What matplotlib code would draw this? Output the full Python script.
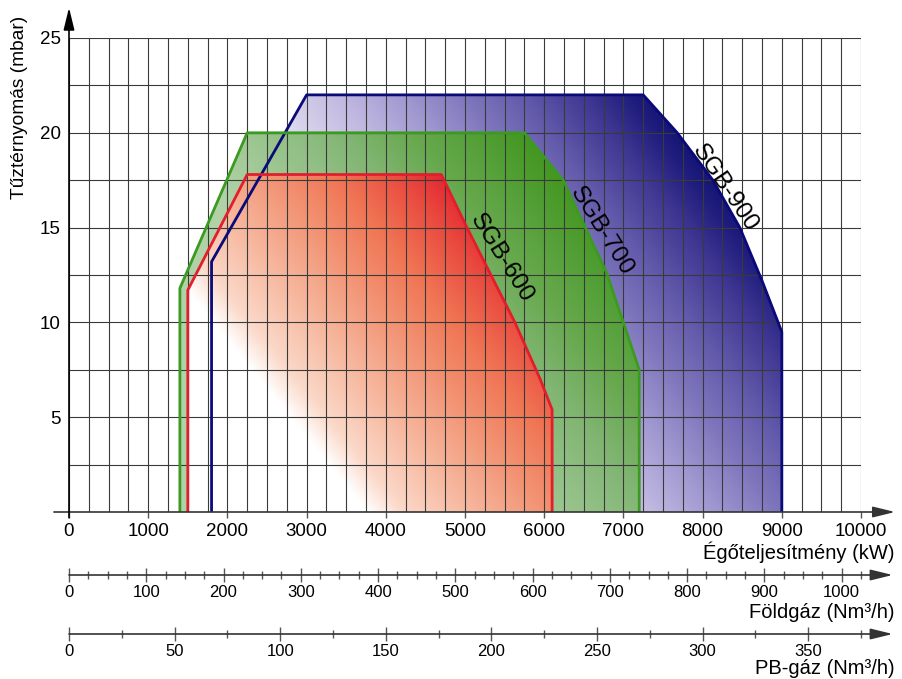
import numpy as np
import matplotlib.pyplot as plt
from matplotlib.colors import LinearSegmentedColormap
from matplotlib.patches import Polygon

plt.rcParams['font.family'] = ['Liberation Sans', 'DejaVu Sans']

# working ranges: burner output (kW) vs chamber pressure (mbar)
sgb600_kw = [1500, 1500, 2250, 4700, 5025, 5630, 5950, 6100, 6100]
sgb600_mbar = [0, 11.7, 17.8, 17.8, 15.0, 10.0, 7.0, 5.4, 0]
sgb700_kw = [1400, 1400, 2250, 5750, 6240, 6790, 7000, 7200, 7200]
sgb700_mbar = [0, 11.8, 20.0, 20.0, 17.5, 12.6, 10.0, 7.5, 0]
sgb900_kw = [1800, 1800, 3000, 7250, 7680, 8130, 8470, 8750, 9000, 9000]
sgb900_mbar = [0, 13.2, 22.0, 22.0, 20.0, 17.5, 15.0, 12.2, 9.5, 0]

kw_ticks = [0, 1000, 2000, 3000, 4000, 5000, 6000, 7000, 8000, 9000, 10000]
mbar_ticks = [5, 10, 15, 20, 25]
foldgaz_ticks = [0, 100, 200, 300, 400, 500, 600, 700, 800, 900, 1000]
pbgaz_ticks = [0, 50, 100, 150, 200, 250, 300, 350]

# conversion kW per Nm3/h
kw_per_foldgaz = 9.77
kw_per_pbgaz = 27.1

W, H = 903, 679
fig = plt.figure(figsize=(W / 100, H / 100), dpi=100)
ax = fig.add_axes([69 / W, 1 - 512 / H, 792 / W, 474 / H])
for s in ax.spines.values():
    s.set_visible(False)

xx, yy = np.meshgrid(np.linspace(0, 10000, 500), np.linspace(0, 25, 300))


def gradient_fill(px, py, t, stops, z):
    cmap = LinearSegmentedColormap.from_list('g', stops)
    poly = Polygon(np.column_stack([px, py]), closed=True, facecolor='none', edgecolor='none')
    ax.add_patch(poly)
    im = ax.imshow(np.clip(t, 0, 1), extent=(0, 10000, 0, 25), origin='lower', aspect='auto',
                   cmap=cmap, vmin=0, vmax=1, zorder=z, interpolation='bilinear')
    im.set_clip_path(poly)


# blue (SGB-900)
t_blue = 0.00019 * xx + 0.0341 * yy - 1.2
gradient_fill(sgb900_kw, sgb900_mbar, t_blue,
              [(0, '#e0dcf0'), (0.2, '#c0b8e0'), (0.35, '#a098d0'), (0.5, '#7e76bc'),
               (0.6, '#6a62b0'), (0.8, '#3c3490'), (0.9, '#1e1c7c'), (1, '#0c0c6a')], 1)
# green (SGB-700)
t_green = 0.000214 * xx + 0.0417 * yy - 1.12
gradient_fill(sgb700_kw, sgb700_mbar, t_green,
              [(0, '#b0d2a6'), (0.2, '#9cc690'), (0.45, '#82b674'), (0.65, '#66a84c'),
               (0.8, '#54a038'), (1, '#3e9418')], 2)
# red (SGB-600)
t_red = 0.000214 * xx + 0.0417 * yy - 0.804
gradient_fill(sgb600_kw, sgb600_mbar, t_red,
              [(0, '#ffffff'), (0.1, '#fbd8c8'), (0.3, '#f6b49a'), (0.5, '#f29070'),
               (0.65, '#f07655'), (0.82, '#ea4d40'), (1, '#e2182b')], 3)

ax.set_xlim(0, 10000)
ax.set_ylim(0, 25)

# grid
ax.vlines(np.arange(0, 10001, 250), 0, 25, color='#3a3a3a', lw=0.8, zorder=4)
ax.hlines(np.arange(2.5, 25.1, 2.5), 0, 10000, color='#3a3a3a', lw=0.8, zorder=4)

# outlines
ax.plot(sgb900_kw, sgb900_mbar, color='#0a0a78', lw=2, zorder=5)
ax.plot(sgb700_kw, sgb700_mbar, color='#3c9a22', lw=2, zorder=5)
ax.plot(sgb600_kw, sgb600_mbar, color='#e31e2c', lw=2, zorder=5)

ax.text(5455, 13.4, 'SGB-600', rotation=-58, fontsize=17.5, ha='center', va='center', zorder=6)
ax.text(6730, 14.8, 'SGB-700', rotation=-58, fontsize=17.5, ha='center', va='center', zorder=6)
ax.text(8283, 17.1, 'SGB-900', rotation=-56, fontsize=17.5, ha='center', va='center', zorder=6)

arrow = dict(arrowstyle='-|>,head_length=0.9,head_width=0.22', color='black', lw=1.2,
             mutation_scale=15, shrinkA=0, shrinkB=0)
ax.annotate('', xy=(10430, 0), xytext=(-190, 0), arrowprops=dict(arrow, color='#333333'),
            annotation_clip=False, zorder=7)
ax.annotate('', xy=(0, 26.6), xytext=(0, -0.3), arrowprops=arrow, annotation_clip=False, zorder=7)

ax.set_xticks(kw_ticks)
ax.set_yticks(mbar_ticks)
ax.tick_params(axis='x', length=4, width=1, color='#555555', labelsize=13.5, pad=4)
ax.tick_params(axis='y', length=0, labelsize=13.5, pad=6)

fig.text(20 / W, 1 - 107 / H, 'Tűztérnyomás (mbar)', rotation=90, ha='center', va='center', fontsize=13.8)
fig.text(895 / W, 1 - 552 / H, 'Égőteljesítmény (kW)', ha='right', va='center', fontsize=14.5)


def gas_axis(y_px, kw_per_unit, ticks, minor_step, top, label, label_y_px):
    a = fig.add_axes([69 / W, 1 - y_px / H, 792 / W, 0.0001])
    a.set_xlim(0, 10000 / kw_per_unit)
    a.set_yticks([])
    for s in a.spines.values():
        s.set_visible(False)
    a.patch.set_visible(False)
    a.set_xticks(ticks)
    a.set_xticks(np.arange(0, top + 1, minor_step), minor=True)
    a.tick_params(axis='x', which='major', direction='inout', length=10, width=1, color='#555555',
                  labelsize=12, pad=2)
    a.tick_params(axis='x', which='minor', direction='inout', length=6, width=1, color='#555555')
    a.annotate('', xy=(1.04, 0), xytext=(0, 0), xycoords='axes fraction',
               arrowprops=dict(arrow, color='#333333'), annotation_clip=False)
    fig.text(895 / W, 1 - label_y_px / H, label, ha='right', va='center', fontsize=14.5)


gas_axis(575, kw_per_foldgaz, foldgaz_ticks, 25, 1025, 'Földgáz (Nm³/h)', 612)
gas_axis(634, kw_per_pbgaz, pbgaz_ticks, 25, 375, 'PB-gáz (Nm³/h)', 668)

fig.savefig('out.png', dpi=100)
